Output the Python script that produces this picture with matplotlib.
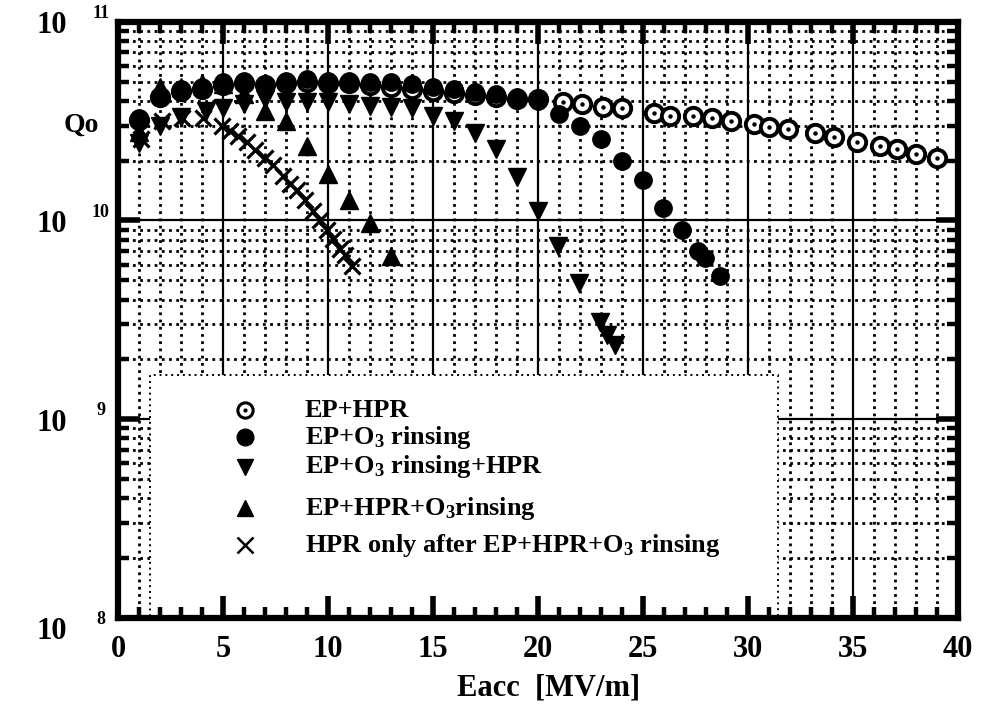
import matplotlib

matplotlib.use("Agg")
import matplotlib.pyplot as plt
from matplotlib.patches import Rectangle
from matplotlib.ticker import FixedLocator, NullFormatter
import matplotlib.transforms as mtransforms

plt.rcParams["font.family"] = ["Liberation Serif", "DejaVu Serif"]
plt.rcParams["font.weight"] = "bold"
plt.rcParams["mathtext.fontset"] = "custom"
plt.rcParams["mathtext.rm"] = "Liberation Serif:bold"
plt.rcParams["mathtext.it"] = "Liberation Serif:bold"
plt.rcParams["mathtext.bf"] = "Liberation Serif:bold"

# Eacc [MV/m] and Qo
ep_hpr_x = [1, 2, 3, 4, 5, 6, 7, 8, 9, 10, 11, 12, 13, 14, 15, 16, 17, 18, 19,
            20.0, 21.2, 22.1, 23.1, 24.0, 25.5, 26.3, 27.4, 28.3, 29.2, 30.3,
            31.0, 31.9, 33.2, 34.1, 35.2, 36.3, 37.1, 38.0, 39.0]
ep_hpr_q = [3.2e10, 4.2e10, 4.5e10, 4.6e10, 4.8e10, 4.9e10, 4.8e10, 4.9e10,
            5.0e10, 4.9e10, 4.9e10, 4.8e10, 4.7e10, 4.6e10, 4.5e10, 4.4e10,
            4.3e10, 4.2e10, 4.1e10, 4.1e10, 3.96e10, 3.87e10, 3.74e10, 3.66e10,
            3.49e10, 3.37e10, 3.37e10, 3.26e10, 3.18e10, 3.07e10, 2.96e10,
            2.9e10, 2.74e10, 2.64e10, 2.49e10, 2.36e10, 2.3e10, 2.15e10, 2.05e10]

ep_o3_x = [1, 2, 3, 4, 5, 6, 7, 8, 9, 10, 11, 12, 13, 14, 15, 16, 17, 18, 19,
           20, 21, 22, 23, 24, 25.0, 25.95, 26.86, 27.62, 27.95, 28.67]
ep_o3_q = [3.26e10, 4.25e10, 4.6e10, 4.71e10, 4.99e10, 5.05e10, 4.88e10,
           5.05e10, 5.17e10, 5.05e10, 5.05e10, 4.99e10, 4.99e10, 4.88e10,
           4.71e10, 4.6e10, 4.45e10, 4.35e10, 4.2e10, 4.01e10, 3.45e10, 3.0e10,
           2.58e10, 2.0e10, 1.59e10, 1.16e10, 8.9e9, 6.98e9, 6.44e9, 5.23e9]

ep_o3_hpr_x = [1, 2, 3, 4.2, 5, 6, 7, 8, 9, 10, 11, 12, 13, 14, 15, 16, 17,
               18, 19, 20, 20.95, 21.95, 22.95, 23.3, 23.67]
ep_o3_hpr_q = [2.44e10, 3.0e10, 3.33e10, 3.57e10, 3.66e10, 3.87e10, 4.1e10,
               3.96e10, 3.96e10, 3.96e10, 3.87e10, 3.78e10, 3.74e10, 3.66e10,
               3.37e10, 3.18e10, 2.74e10, 2.3e10, 1.66e10, 1.11e10, 7.4e9,
               4.82e9, 3.1e9, 2.64e9, 2.35e9]

ep_hpr_o3_x = [1, 2, 3, 4, 5, 6, 7, 8, 9, 10, 11, 12, 13]
ep_hpr_o3_q = [2.8e10, 4.71e10, 4.71e10, 4.9e10, 4.88e10, 4.35e10, 3.55e10,
               3.18e10, 2.36e10, 1.72e10, 1.26e10, 9.66e9, 6.6e9]

hpr_only_x = [1.1, 2.1, 3.05, 4.05, 4.95, 5.33, 5.71, 6.14, 6.52, 7.0, 7.38,
              7.86, 8.19, 8.52, 8.9, 9.29, 9.62, 9.95, 10.24, 10.57, 10.81, 11.14]
hpr_only_q = [2.58e10, 3.18e10, 3.26e10, 3.26e10, 3.0e10, 2.83e10, 2.67e10,
              2.49e10, 2.25e10, 2.05e10, 1.91e10, 1.68e10, 1.53e10, 1.42e10,
              1.26e10, 1.12e10, 1.0e10, 8.9e9, 8.1e9, 7.2e9, 6.7e9, 5.9e9]

legend_labels = ["EP+HPR", "EP+O$_3$ rinsing", "EP+O$_3$ rinsing+HPR",
                 "EP+HPR+O$_3$rinsing", "HPR only after EP+HPR+O$_3$ rinsing"]
x_ticks = [0, 5, 10, 15, 20, 25, 30, 35, 40]
decades = [1e8, 1e9, 1e10, 1e11]
decade_exp = ["8", "9", "10", "11"]

fig = plt.figure(figsize=(9.97, 7.15), dpi=100)
ax = fig.add_axes([0.1184, 0.1357, 0.8425, 0.834])
ax.set_xlim(0, 40)
ax.set_yscale("log")
ax.set_ylim(1e8, 1e11)

# grid drawn by hand: dotted every unit / minor decade, solid on the 5s and decades
dot = (0, (1, 1.6))
for x in range(1, 40):
    if x % 5 == 0:
        ax.axvline(x, color="black", lw=1.6, zorder=1)
    else:
        ax.axvline(x, color="black", lw=2.0, ls=dot, zorder=1)
for d in decades[:-1]:
    for m in range(2, 10):
        ax.axhline(d * m, color="black", lw=2.0, ls=dot, zorder=1)
for d in decades[1:-1]:
    ax.axhline(d, color="black", lw=1.6, zorder=1)

# blank legend panel over the lower-left part of the grid
ax.add_patch(Rectangle((0.038, 0.0), 0.748, 0.408, transform=ax.transAxes,
                       facecolor="white", edgecolor="black", lw=1.4,
                       ls=(0, (1, 2)), zorder=1.2))

ms = 12.5
ax.plot(ep_hpr_x, ep_hpr_q, ls="none", marker="o", ms=ms, mfc="white",
        mec="black", mew=2.8, zorder=3)
ax.plot(ep_hpr_x, ep_hpr_q, ls="none", marker="o", ms=2.2, color="black", zorder=3)
ax.plot(ep_o3_x, ep_o3_q, ls="none", marker="o", ms=ms, color="black", zorder=3)
ax.plot(ep_o3_hpr_x, ep_o3_hpr_q, ls="none", marker="v", ms=13.5, color="black", zorder=3)
ax.plot(ep_hpr_o3_x, ep_hpr_o3_q, ls="none", marker="^", ms=13.5, color="black", zorder=3)
ax.plot(hpr_only_x, hpr_only_q, ls="none", marker="x", ms=11, mew=2.3,
        color="black", zorder=3)

# ticks: comb-like inward ticks on all four sides
ax.xaxis.set_major_locator(FixedLocator(x_ticks))
ax.xaxis.set_minor_locator(FixedLocator(range(41)))
ax.yaxis.set_major_locator(FixedLocator(decades))
ax.yaxis.set_minor_locator(FixedLocator([d * m for d in decades[:-1] for m in range(2, 10)]))
ax.yaxis.set_major_formatter(NullFormatter())
ax.yaxis.set_minor_formatter(NullFormatter())
ax.tick_params(which="both", direction="in", top=True, right=True, color="black")
ax.tick_params(which="major", length=16, width=4)
ax.tick_params(which="minor", length=8, width=3.2)
ax.tick_params(axis="x", which="major", labelsize=22, pad=12)
for lab in ax.get_xticklabels():
    lab.set_fontweight("bold")
for s in ax.spines.values():
    s.set_linewidth(4.5)

# y labels written as "10" with a raised exponent
blend = mtransforms.blended_transform_factory(fig.transFigure, ax.transData)
for d, e in zip(decades, decade_exp):
    dy = -10 if d == 1e8 else -3
    ax.annotate("10", xy=(0.052, d), xycoords=blend, xytext=(0, dy),
                textcoords="offset points", ha="center", va="center",
                fontsize=22, fontweight="bold")
    ax.annotate(e, xy=(0.101, d), xycoords=blend, xytext=(0, dy + 9),
                textcoords="offset points", ha="center", va="center",
                fontsize=13, fontweight="bold")

fig.text(0.082, 0.825, "Qo", ha="center", va="center", fontsize=20, fontweight="bold")
fig.text(0.55, 0.038, "Eacc  [MV/m]", ha="center", va="center", fontsize=22,
         fontweight="bold")

# legend drawn inside the blank panel
leg_y = [0.348, 0.303, 0.254, 0.184, 0.122]
leg_style = [dict(marker="o", ms=11, mfc="white", mec="black", mew=2.2),
             dict(marker="o", ms=12, color="black"),
             dict(marker="v", ms=12, color="black"),
             dict(marker="^", ms=12, color="black"),
             dict(marker="x", ms=11, mew=1.8, color="black")]
for y, lab, st in zip(leg_y, legend_labels, leg_style):
    ax.plot([0.151], [y], transform=ax.transAxes, ls="none", zorder=3, **st)
    ax.text(0.222, y, lab, transform=ax.transAxes, ha="left", va="center",
            fontsize=19, fontweight="bold", zorder=3)
ax.plot([0.151], [leg_y[0]], transform=ax.transAxes, ls="none", marker="o",
        ms=2, color="black", zorder=3)

fig.savefig("out.png", dpi=100)
